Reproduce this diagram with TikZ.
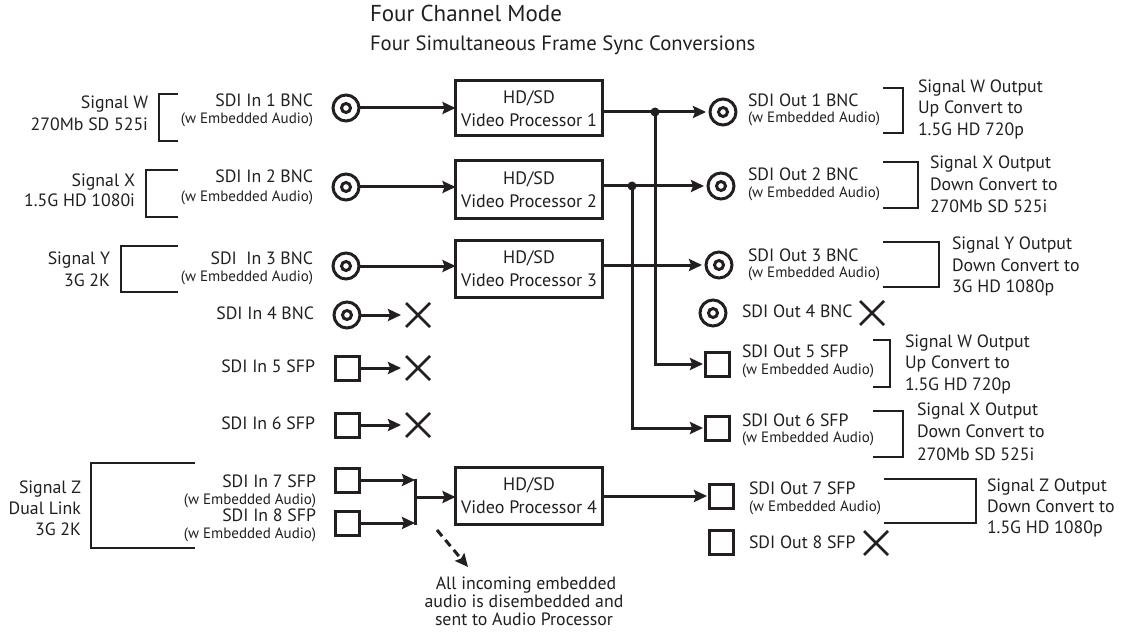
\documentclass[tikz,border=0pt]{standalone}
\usepackage{fontspec}
\setmainfont{PT Sans}
\usetikzlibrary{arrows.meta,shapes.misc}
\definecolor{ink}{HTML}{231F20}
\begin{document}
\begin{tikzpicture}[x=1pt,y=-1pt,
  lbl/.style={inner sep=0pt, outer sep=0pt, text=ink, yshift=-1.5pt},
  big/.style={lbl, font=\fontsize{17.8}{20}\selectfont},
  small/.style={lbl, font=\fontsize{15}{17}\selectfont},
  ttla/.style={lbl, font=\fontsize{23}{26}\selectfont},
  ttlb/.style={lbl, font=\fontsize{20.7}{24}\selectfont},
  proc/.style={draw=ink, line width=3pt, minimum width=147pt, align=center, inner sep=0pt, outer sep=0pt, text=ink, font=\fontsize{18}{23}\selectfont},
  bnc/.style={circle, draw=ink, line width=3pt, minimum size=26pt, inner sep=0pt, outer sep=0pt,
    path picture={\draw[ink, line width=3pt] (path picture bounding box.center) circle[radius=4.5pt];}},
  sfp/.style={rectangle, draw=ink, line width=3pt, minimum size=24pt, inner sep=0pt, outer sep=0pt},
  xmark/.style={cross out, draw=ink, line width=2.5pt, minimum size=24pt, inner sep=0pt, outer sep=0pt},
  arr/.style={draw=ink, line width=3pt, -{Stealth[length=13pt, width=12pt, inset=2pt]}},
  wire/.style={draw=ink, line width=3pt},
  brk/.style={draw=ink, line width=2.5pt},
  dot/.style={circle, fill=ink, minimum size=9pt, inner sep=0pt, outer sep=0pt}]
\fill[white] (0,0) rectangle (1124,639);
\useasboundingbox (0,0) rectangle (1124,639);

% titles
\node[ttla, anchor=mid west] (title1) at (370,18) {Four Channel Mode};
\node[ttlb, anchor=mid west] (title2) at (370,47) {Four Simultaneous Frame Sync Conversions};

% processors
\node[proc, minimum height=55pt] (p1) at (529,108.5) {HD/SD\\Video Processor 1};
\node[proc, minimum height=58pt] (p2) at (529,189.5) {HD/SD\\Video Processor 2};
\node[proc, minimum height=57pt] (p3) at (529,269) {HD/SD\\Video Processor 3};
\node[proc, minimum height=57pt] (p4) at (529,496) {HD/SD\\Video Processor 4};

% input signal descriptions
\node[big, anchor=mid east] (sw1) at (148,105) {Signal W};
\node[big, anchor=mid east] (sw2) at (148,127) {270Mb SD 525i};
\draw[brk] (178,94) -- (159,94) -- (159,141) -- (178,141);
\node[big, anchor=mid east] (sx1) at (135,182) {Signal X};
\node[big, anchor=mid east] (sx2) at (135,203) {1.5G HD 1080i};
\draw[brk] (178,170) -- (146,170) -- (146,217) -- (178,217);
\node[big, anchor=mid east] (sy1) at (110,260) {Signal Y};
\node[big, anchor=mid east] (sy2) at (110,282) {3G 2K};
\draw[brk] (178,246) -- (121,246) -- (121,292) -- (178,292);
\node[big, anchor=mid east] (sz1) at (81,489) {Signal Z};
\node[big, anchor=mid east] (sz2) at (81,510) {Dual Link};
\node[big, anchor=mid east] (sz3) at (81,531) {3G 2K};
\draw[brk] (195,463) -- (91,463) -- (91,548) -- (195,548);

% input labels
\node[big, anchor=mid east] (li1) at (313,103) {SDI In 1 BNC};
\node[small, anchor=mid east] (li1b) at (313,120) {(w Embedded Audio)};
\node[big, anchor=mid east] (li2) at (313,179) {SDI In 2 BNC};
\node[small, anchor=mid east] (li2b) at (313,197) {(w Embedded Audio)};
\node[big, anchor=mid east] (li3) at (313,260) {SDI~ In 3 BNC};
\node[small, anchor=mid east] (li3b) at (313,277) {(w Embedded Audio)};
\node[big, anchor=mid east] (li4) at (314,315) {SDI In 4 BNC};
\node[big, anchor=mid east] (li5) at (315,368) {SDI In 5 SFP};
\node[big, anchor=mid east] (li6) at (315,425) {SDI In 6 SFP};
\node[big, anchor=mid east] (li7) at (316,483) {SDI In 7 SFP};
\node[small, anchor=mid east] (li7b) at (316,500) {(w Embedded Audio)};
\node[big, anchor=mid east] (li8) at (316,517) {SDI In 8 SFP};
\node[small, anchor=mid east] (li8b) at (316,534) {(w Embedded Audio)};

% input connectors
\node[bnc] (i1) at (346,108) {};
\node[bnc] (i2) at (346,187) {};
\node[bnc] (i3) at (346,266) {};
\node[bnc] (i4) at (347,315) {};
\node[sfp] (i5) at (347,368) {};
\node[sfp] (i6) at (347,425) {};
\node[sfp] (i7) at (347,480) {};
\node[sfp] (i8) at (347,523) {};
\node[xmark] (x4) at (418,315) {};
\node[xmark] (x5) at (418,368) {};
\node[xmark] (x6) at (418,425) {};

\draw[arr] (i1) -- (i1 -| p1.west);
\draw[arr] (i2) -- (i2 -| p2.west);
\draw[arr] (i3) -- (i3 -| p3.west);
\draw[arr, shorten >=5pt] (i4) -- (x4);
\draw[arr, shorten >=5pt] (i5) -- (x5);
\draw[arr, shorten >=5pt] (i6) -- (x6);

% dual link merge
\coordinate (m7) at (415,480);
\coordinate (m8) at (415,523);
\coordinate (mo) at (415,497);
\draw[arr] (i7) -- (m7);
\draw[arr] (i8) -- (m8);
\draw[wire] ([yshift=1.5pt]m7) -- ([yshift=-1.5pt]m8);
\draw[arr] (mo) -- (mo -| p4.west);

% audio note
\coordinate (da) at (437,530);
\coordinate (db) at (468,567);
\draw[arr, dash pattern=on 8pt off 5pt] (da) -- (db);
\node[big, anchor=mid] (au1) at (526,585) {All incoming embedded};
\node[big, anchor=mid] (au2) at (524,603) {audio is disembedded and};
\node[big, anchor=mid] (au3) at (524,621) {sent to Audio Processor};

% outputs
\node[bnc] (o1) at (723,112) {};
\node[bnc] (o2) at (721,186) {};
\node[bnc] (o3) at (719,265) {};
\node[bnc] (o4) at (713,313) {};
\node[sfp] (o5) at (717,364) {};
\node[sfp] (o6) at (717,428) {};
\node[sfp] (o7) at (721,496) {};
\node[sfp] (o8) at (721,542) {};
\node[xmark] (xo4) at (872,313) {};
\node[xmark] (xo8) at (876,543) {};

\coordinate (t1) at (655,112);
\coordinate (t2) at (632,186);
\draw[arr, shorten >=4pt] (p1.east |- o1) -- (o1);
\draw[arr, shorten >=4pt] (p2.east |- o2) -- (o2);
\draw[arr, shorten >=4pt] (p3.east |- o3) -- (o3);
\draw[arr, shorten >=2pt] (p4.east |- o7) -- (o7);
\draw[arr, shorten >=2pt] (t1) |- (o5);
\draw[arr, shorten >=2pt] (t2) |- (o6);
\node[dot] at (t1) {};
\node[dot] at (t2) {};

% output labels
\node[big, anchor=mid west] (lo1) at (748,103) {SDI Out 1 BNC};
\node[small, anchor=mid west] (lo1b) at (748,119) {(w Embedded Audio)};
\node[big, anchor=mid west] (lo2) at (748,177) {SDI Out 2 BNC};
\node[small, anchor=mid west] (lo2b) at (748,193) {(w Embedded Audio)};
\node[big, anchor=mid west] (lo3) at (748,257) {SDI Out 3 BNC};
\node[small, anchor=mid west] (lo3b) at (748,273) {(w Embedded Audio)};
\node[big, anchor=mid west] (lo4) at (742,313) {SDI Out 4 BNC};
\node[big, anchor=mid west] (lo5) at (742,353) {SDI Out 5 SFP};
\node[small, anchor=mid west] (lo5b) at (742,370) {(w Embedded Audio)};
\node[big, anchor=mid west] (lo6) at (742,422) {SDI Out 6 SFP};
\node[small, anchor=mid west] (lo6b) at (742,438) {(w Embedded Audio)};
\node[big, anchor=mid west] (lo7) at (749,490) {SDI Out 7 SFP};
\node[small, anchor=mid west] (lo7b) at (749,507) {(w Embedded Audio)};
\node[big, anchor=mid west] (lo8) at (749,544) {SDI Out 8 SFP};

% output brackets and descriptions
\draw[brk] (883,88) -- (903,88) -- (903,133) -- (883,133);
\node[big, anchor=mid west] (d1a) at (918,89) {Signal W Output};
\node[big, anchor=mid west] (d1b) at (918,110) {Up Convert to};
\node[big, anchor=mid west] (d1c) at (918,132) {1.5G HD 720p};
\draw[brk] (883,162) -- (918,162) -- (918,208) -- (883,208);
\node[big, anchor=mid west] (d2a) at (930,165) {Signal X Output};
\node[big, anchor=mid west] (d2b) at (930,187) {Down Convert to};
\node[big, anchor=mid west] (d2c) at (930,208) {270Mb SD 525i};
\draw[brk] (883,242) -- (939,242) -- (939,287) -- (883,287);
\node[big, anchor=mid west] (d3a) at (952,245) {Signal Y Output};
\node[big, anchor=mid west] (d3b) at (952,267) {Down Convert to};
\node[big, anchor=mid west] (d3c) at (952,288) {3G HD 1080p};
\draw[brk] (873,340) -- (890,340) -- (890,387) -- (873,387);
\node[big, anchor=mid west] (d5a) at (905,343) {Signal W Output};
\node[big, anchor=mid west] (d5b) at (905,364) {Up Convert to};
\node[big, anchor=mid west] (d5c) at (905,386) {1.5G HD 720p};
\draw[brk] (873,411) -- (903,411) -- (903,457) -- (873,457);
\node[big, anchor=mid west] (d6a) at (917,411) {Signal X Output};
\node[big, anchor=mid west] (d6b) at (917,433) {Down Convert to};
\node[big, anchor=mid west] (d6c) at (917,456) {270Mb SD 525i};
\draw[brk] (884,479) -- (976,479) -- (976,523) -- (884,523);
\node[big, anchor=mid west] (d7a) at (987,487) {Signal Z Output};
\node[big, anchor=mid west] (d7b) at (987,508) {Down Convert to};
\node[big, anchor=mid west] (d7c) at (987,529) {1.5G HD 1080p};
\end{tikzpicture}
\end{document}
